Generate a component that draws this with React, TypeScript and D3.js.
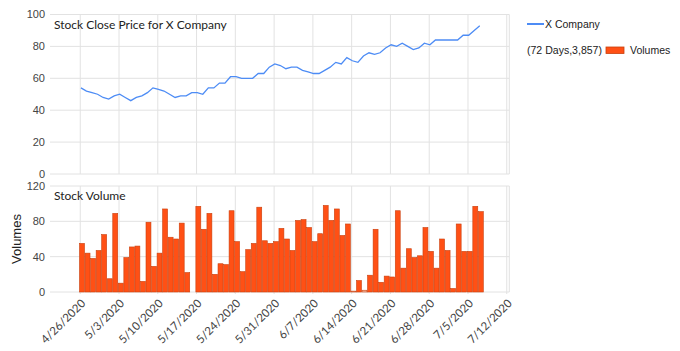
import React from "react";
import * as d3 from "d3";

const dayLabels = [
  "4/26","4/27","4/28","4/29","4/30","5/1","5/2","5/3","5/4","5/5","5/6","5/7","5/8","5/9","5/10","5/11","5/12","5/13","5/14","5/15","5/16",
  "5/17","5/18","5/19","5/20","5/21","5/22","5/23","5/24","5/25","5/26","5/27","5/28","5/29","5/30","5/31","6/1","6/2","6/3","6/4","6/5",
  "6/6","6/7","6/8","6/9","6/10","6/11","6/12","6/13","6/14","6/15","6/16","6/17","6/18","6/19","6/20","6/21","6/22","6/23","6/24","6/25",
  "6/26","6/27","6/28","6/29","6/30","7/1","7/2","7/3","7/4","7/5","7/6","7/7",
];
const closePrices = [
  54,52,51,50,48,47,49,50,48,46,48,49,51,54,53,52,50,48,49,49,51,
  51,50,54,54,57,57,61,61,60,60,60,63,63,67,69,68,66,67,67,65,
  64,63,63,65,67,70,69,73,71,70,74,76,75,76,79,81,80,82,80,78,
  79,82,81,84,84,84,84,84,87,87,90,93,
];
const volumes: (number | null)[] = [
  55,44,38,47,65,15,89,10,39,51,52,12,79,29,44,94,62,60,78,22,null,
  97,71,89,20,32,31,92,57,23,48,55,96,58,55,57,72,60,47,81,82,
  73,57,66,98,81,94,64,77,1,13,2,19,71,11,18,17,92,27,49,39,
  41,73,46,27,60,47,4,77,46,46,97,91,
];
const weekTicks = ["4/26/2020","5/3/2020","5/10/2020","5/17/2020","5/24/2020","5/31/2020","6/7/2020","6/14/2020","6/21/2020","6/28/2020","7/5/2020","7/12/2020"];
const priceTicks = [0, 20, 40, 60, 80, 100];
const volumeTicks = [0, 40, 80, 120];

const parseDay = (s: string) => {
  const [m, d] = s.split("/").map(Number);
  return new Date(2020, m - 1, d);
};
const parseFull = (s: string) => {
  const [m, d, y] = s.split("/").map(Number);
  return new Date(y, m - 1, d);
};

const LINE_COLOR = "#4d8cf5";
const BAR_FILL = "#ff5015";
const BAR_STROKE = "#c9400e";
const GRID = "#e2e2e2";
const TEXT = "#444";
const TITLE_FONT = "Lato, 'Liberation Sans', sans-serif";
const AXIS_FONT = "'Liberation Sans', Arial, sans-serif";

export default function App() {
  const W = 680, H = 351;
  const left = 50, right = 509.3;
  const dates = dayLabels.map(parseDay);
  const tickDates = weekTicks.map(parseFull);

  const x = d3
    .scaleTime()
    .domain([d3.timeHour.offset(dates[0], -131), d3.timeHour.offset(tickDates[tickDates.length - 1], 11)])
    .range([left, right]);

  const yP = d3.scaleLinear().domain([0, 100]).range([174, 14.5]);
  const yV = d3.scaleLinear().domain([0, 120]).range([292, 186]);

  const line = d3
    .line<number>()
    .x((_, i) => x(dates[i]) + 0.7)
    .y((v) => yP(v));

  const dayW = x(dates[1]) - x(dates[0]);

  return (
    <svg width={W} height={H} style={{ position: "absolute", left: 0, top: 0, background: "#fff" }}>
      {/* top chart grid */}
      {priceTicks.map((t) => (
        <line key={"pg" + t} x1={left} x2={right} y1={yP(t)} y2={yP(t)} stroke={GRID} />
      ))}
      {tickDates.map((d, i) => (
        <line key={"pv" + i} x1={x(d)} x2={x(d)} y1={yP(100)} y2={yP(0)} stroke={GRID} />
      ))}
      <line x1={right} x2={right} y1={yP(100)} y2={yP(0)} stroke={GRID} />
      {priceTicks.map((t) => (
        <text key={"pt" + t} x={45} y={yP(t)} dy="0.35em" textAnchor="end" fontSize={11} fontFamily={AXIS_FONT} fill={TEXT}>
          {t}
        </text>
      ))}
      <text x={54} y={29} fontSize={12} fontFamily={TITLE_FONT} fill="#222">
        Stock Close Price for X Company
      </text>
      <path d={line(closePrices) || ""} fill="none" stroke={LINE_COLOR} strokeWidth={1.3} />

      {/* bottom chart grid */}
      {volumeTicks.map((t) => (
        <line key={"vg" + t} x1={left} x2={right} y1={yV(t)} y2={yV(t)} stroke={GRID} />
      ))}
      {tickDates.map((d, i) => (
        <line key={"vv" + i} x1={x(d)} x2={x(d)} y1={yV(120)} y2={yV(0) + 2} stroke={GRID} />
      ))}
      <line x1={right} x2={right} y1={yV(120)} y2={yV(0)} stroke={GRID} />
      {volumeTicks.map((t) => (
        <text key={"vt" + t} x={45} y={yV(t)} dy="0.35em" textAnchor="end" fontSize={11} fontFamily={AXIS_FONT} fill={TEXT}>
          {t}
        </text>
      ))}
      <text x={54} y={200} fontSize={12} fontFamily={TITLE_FONT} fill="#222">
        Stock Volume
      </text>
      <text
        transform={`translate(21, ${(yV(0) + yV(120)) / 2}) rotate(-90)`}
        textAnchor="middle"
        fontSize={13}
        fontFamily={AXIS_FONT}
        fill="#222"
      >
        Volumes
      </text>
      {volumes.map((v, i) =>
        v == null ? null : (
          <rect
            key={"b" + i}
            x={x(dates[i]) - 0.7}
            y={yV(v)}
            width={dayW - 0.6}
            height={yV(0) - yV(v)}
            fill={v < 3 ? "#f7b9a0" : BAR_FILL}
            stroke={BAR_STROKE}
            strokeWidth={0.6}
          />
        )
      )}
      {tickDates.map((d, i) => (
        <text
          key={"xl" + i}
          transform={`translate(${x(d) + 6}, 304) rotate(-45)`}
          textAnchor="end"
          fontSize={11.5}
          fontFamily={TITLE_FONT}
          fill={TEXT}
        >
          {weekTicks[i]}
        </text>
      ))}

      {/* legend */}
      <line x1={527} x2={544} y1={24} y2={24} stroke={LINE_COLOR} strokeWidth={2} />
      <text x={545} y={28} fontSize={10.5} fontFamily={AXIS_FONT} fill="#222">
        X Company
      </text>
      <text x={527} y={54} fontSize={10.5} fontFamily={AXIS_FONT} fill="#222" textLength={75} lengthAdjust="spacingAndGlyphs">
        (72 Days,3,857)
      </text>
      <rect x={606} y={47} width={18} height={6.5} fill={BAR_FILL} stroke={BAR_STROKE} strokeWidth={0.8} />
      <text x={630} y={54} fontSize={10.5} fontFamily={AXIS_FONT} fill="#222">
        Volumes
      </text>
    </svg>
  );
}
